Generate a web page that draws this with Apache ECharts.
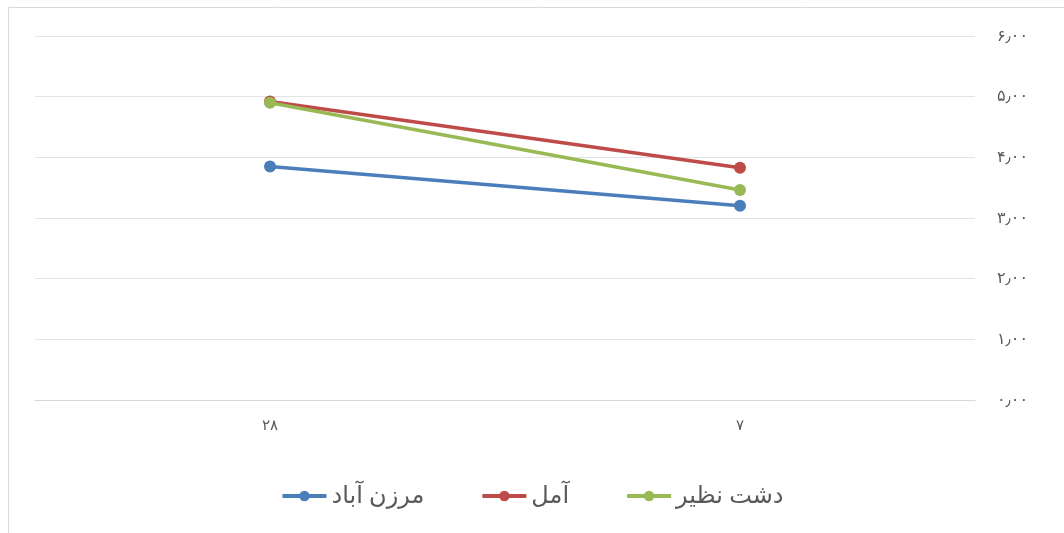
<!DOCTYPE html>
<html><head><meta charset="utf-8">
<script src="https://cdn.jsdelivr.net/npm/echarts@6/dist/echarts.min.js"></script>
<style>html,body{margin:0;padding:0;background:#fff}#c{width:1064px;height:533px}</style>
</head><body><div id="c"></div>
<script>
const categories = ['۲۸', '۷'];
const seriesNames = ['مرزن آباد', 'آمل', 'دشت نظیر'];
const marzanAbad = [3.85, 3.20];
const amol = [4.92, 3.83];
const dashtNazir = [4.90, 3.46];
const yTicks = ['۰٫۰۰', '۱٫۰۰', '۲٫۰۰', '۳٫۰۰', '۴٫۰۰', '۵٫۰۰', '۶٫۰۰'];
const colors = ['#4a7ebb', '#be4b48', '#98b954'];

const font = '"Noto Sans", "DejaVu Sans", sans-serif';
const chart = echarts.init(document.getElementById('c'), null, {renderer: 'canvas'});
const mk = (name, data, i) => ({
  name, type: 'line', data,
  symbol: 'circle', symbolSize: 12,
  lineStyle: {width: 3.5, color: colors[i]},
  itemStyle: {color: colors[i]},
  z: 3 + i
});
chart.setOption({
  animation: false,
  graphic: [{type: 'rect', shape: {x: 8.5, y: 7.5, width: 1100, height: 600},
    style: {fill: 'none', stroke: '#d9d9d9', lineWidth: 1}, silent: true}],
  grid: {left: 35, right: 89, top: 36, bottom: 133},
  legend: {
    bottom: 20, left: 'center', itemWidth: 44, itemHeight: 13, itemGap: 56,
    data: seriesNames,
    lineStyle: {width: 4},
    textStyle: {fontFamily: font, fontSize: 24, color: '#595959'}
  },
  xAxis: {
    type: 'category', data: categories, boundaryGap: true,
    axisLine: {show: true, lineStyle: {color: '#d9d9d9', width: 1}},
    axisTick: {show: false},
    axisLabel: {fontFamily: font, fontSize: 15, color: '#595959', margin: 18}
  },
  yAxis: {
    type: 'value', position: 'right', min: 0, max: 6, interval: 1,
    axisLine: {show: false}, axisTick: {show: false},
    splitLine: {lineStyle: {color: '#e3e3e3', width: 1}},
    axisLabel: {fontFamily: font, fontSize: 16, color: '#595959', margin: 22,
      formatter: (v) => yTicks[Math.round(v)]}
  },
  series: [mk(seriesNames[0], marzanAbad, 0), mk(seriesNames[1], amol, 1), mk(seriesNames[2], dashtNazir, 2)]
});
</script></body></html>
